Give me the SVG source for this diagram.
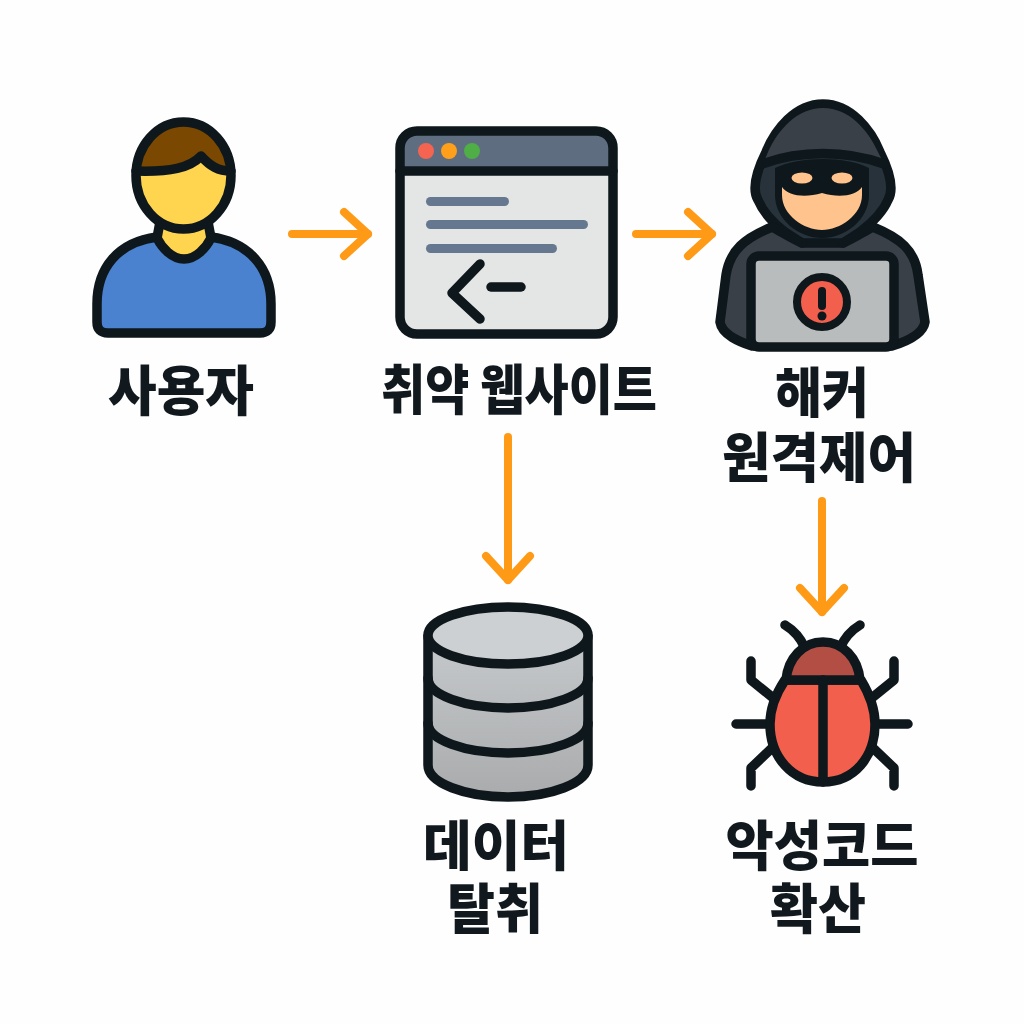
<svg xmlns="http://www.w3.org/2000/svg" width="1024" height="1024" viewBox="0 0 1024 1024">
<defs>
<style>
.k{stroke:#0e171c;stroke-width:9.500;stroke-linecap:round;stroke-linejoin:round}
.n{fill:none}
.c{fill:none;stroke:#ff9a17;stroke-width:8;stroke-linecap:round;stroke-linejoin:round}
.t{font-family:"Noto Sans CJK KR","Noto Sans",sans-serif;font-weight:900;font-size:54px;fill:#11191e;text-anchor:middle}
.b{fill:#66788f}
</style>
<linearGradient id="dbg" x1="0" y1="0" x2="0" y2="1"><stop offset="0" stop-color="#c6c9cb"/><stop offset="1" stop-color="#a9abad"/></linearGradient>
<marker id="a" markerUnits="userSpaceOnUse" markerWidth="44" markerHeight="60" refX="34" refY="30" orient="auto" viewBox="0 0 44 60"><path d="M10 8 L34 30 L10 52" class="c"/></marker>
</defs>
<rect width="1024" height="1024" fill="#fefefe"/>
<g id="connectors">
<path class="c" d="M292 234H368" marker-end="url(#a)"/>
<path class="c" d="M636 234H712" marker-end="url(#a)"/>
<path class="c" d="M508 437V580" marker-end="url(#a)"/>
<path class="c" d="M822 501V612" marker-end="url(#a)"/>
</g>
<g id="user">
<path class="k" fill="#4a82d0" d="M157 237C118 242 97 268 97 304V322Q97 333 108 333H260Q271 333 271 322V304C271 268 249 242 211 237Z"/>
<path class="k" fill="#ffd54f" d="M160 222L157 238C162 248 172 259 184 259C196 259 206 248 211 238L208 222Z"/>
<ellipse cx="183.500" cy="175.500" rx="47.500" ry="53.500" fill="#ffd54f"/>
<path fill="#7a4800" d="M137 168C141 141 160 122 183.500 122C207 122 226 141 230 168L230 171C218 171 210 166 201 156C190 168 170 172 137 171Z"/>
<path class="k n" d="M136 171C170 172 190 168 201 156C210 166 218 171 231 171"/>
<ellipse class="k n" cx="183.500" cy="175.500" rx="47.500" ry="53.500"/>
</g>
<g id="website">
<rect x="400" y="131" width="213" height="203" rx="17" fill="#e4e6e6"/>
<path fill="#5f6d80" d="M400 171V148Q400 131 417 131H596Q613 131 613 148V171Z"/>
<rect class="k n" x="400" y="131" width="213" height="203" rx="17"/>
<path class="k n" d="M400 171H613"/>
<circle cx="426" cy="151" r="8" fill="#f56451"/><circle cx="449" cy="151" r="8" fill="#ff9f1a"/><circle cx="472" cy="151" r="8" fill="#4fae45"/>
<rect class="b" x="426" y="197" width="83" height="9" rx="4.500"/>
<rect class="b" x="426" y="220" width="162" height="9" rx="4.500"/>
<rect class="b" x="426" y="244" width="131" height="9" rx="4.500"/>
<path class="k n" d="M480 264L452 293L480 319"/>
<path class="k n" d="M491 287H521"/>
</g>
<g id="hacker">
<path class="k" fill="#3a4047" d="M772 227C745 238 730 250 726 275L720 322C722 335 740 342 752 346H892C905 342 923 335 925 322L918 275C915 250 900 238 873 227L850 222H795Z"/>
<path class="k" fill="#27323a" d="M823 104C795 104 775 130 766 152C756 172 752 190 758 200C763 212 772 222 785 232L802 243H843L860 232C873 222 883 212 888 200C894 190 890 172 880 152C871 130 851 104 823 104Z"/>
<path fill="#3a4047" d="M823 108C797 108 778 130 768 152L763 164C800 152 846 152 884 164L878 152C868 130 849 108 823 108Z"/>
<path fill="#0e171c" d="M775 168C800 156 846 156 869 168V195C869 220 845 238 822 238C799 238 775 220 775 195Z"/>
<path fill="#ffc38d" d="M782 187C788 196 805 198 822 193C839 198 856 196 862 187V195C862 215 840 230 822 230C804 230 782 215 782 195Z"/>
<path class="k n" d="M762 164C800 150 846 150 884 164"/>
<ellipse cx="802" cy="178" rx="10.500" ry="5.500" fill="#ffc38d"/><ellipse cx="842" cy="178" rx="10.500" ry="5.500" fill="#ffc38d"/>
<path class="k n" d="M772 227C782 232 790 238 802 243M873 227C863 232 855 238 843 243"/>
<rect class="k" x="751" y="256" width="143" height="91" rx="8" fill="#b8bcbd"/>
<circle cx="822" cy="302" r="25" fill="#f25f4c" stroke="#0e171c" stroke-width="8"/>
<path d="M822 291V306" stroke="#0e171c" stroke-width="8" stroke-linecap="round"/><circle cx="822" cy="316" r="4.500" fill="#0e171c"/>
</g>
<g id="database">
<path class="k" fill="url(#dbg)" d="M428 636V765C428 783 465 797 508 797C551 797 588 783 588 765V636Z"/>
<path class="k n" d="M428 678C428 695 465 708 508 708C551 708 588 695 588 678M428 723C428 740 465 753 508 753C551 753 588 740 588 723"/>
<ellipse class="k" cx="508" cy="635.500" rx="80" ry="28.500" fill="#cdd0d3"/>
</g>
<g id="bug">
<path class="k n" d="M785 625C795 631 801 639 805 648M860 625C850 631 844 639 840 648M751 661V680L772 697M894 661V680L873 697M736 724H770M908 724H876M751 786V768L772 748M894 786V768L873 748"/>
<path class="k" fill="#f25f4c" d="M785 680C775 695 770 710 770 724C770 757 792 782 823 782C854 782 875 757 875 724C875 710 870 695 861 680Z"/>
<path class="k" fill="#b34e44" d="M786 680C788 658 803 642 823 642C843 642 858 658 860 680Z"/>
<path class="k n" d="M823 680V782"/>
</g>
<g id="labels">
<text class="t" x="181" y="411" textLength="146" lengthAdjust="spacingAndGlyphs">사용자</text>
<text class="t" x="519" y="410" textLength="276" lengthAdjust="spacingAndGlyphs">취약 웹사이트</text>
<text class="t"><tspan x="822" y="413" textLength="94" lengthAdjust="spacingAndGlyphs">해커</tspan><tspan x="819" y="478" textLength="194" lengthAdjust="spacingAndGlyphs">원격제어</tspan></text>
<text class="t"><tspan x="496" y="866" textLength="146" lengthAdjust="spacingAndGlyphs">데이터</tspan><tspan x="495" y="929" textLength="96" lengthAdjust="spacingAndGlyphs">탈취</tspan></text>
<text class="t"><tspan x="822" y="866" textLength="193" lengthAdjust="spacingAndGlyphs">악성코드</tspan><tspan x="818" y="929" textLength="96" lengthAdjust="spacingAndGlyphs">확산</tspan></text>
</g>
</svg>
